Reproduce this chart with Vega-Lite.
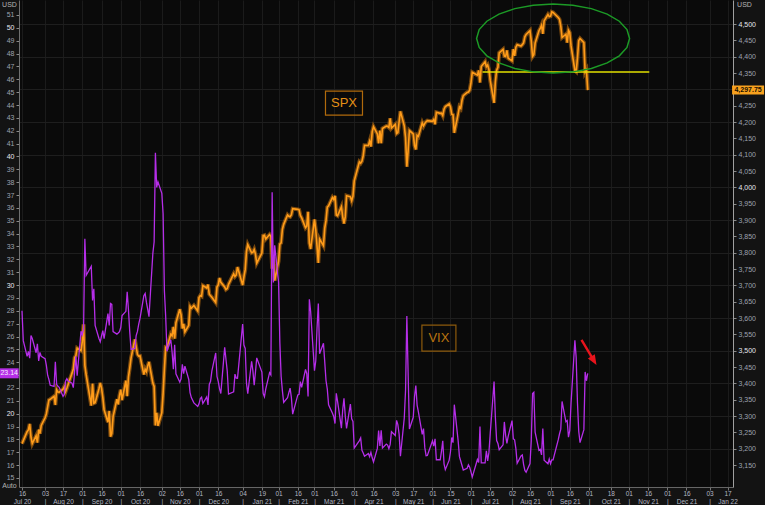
{
  "$schema": "https://vega.github.io/schema/vega-lite/v6.json",
  "width": 714,
  "height": 487,
  "autosize": {"type": "none"},
  "padding": {"left": 19, "top": 0, "right": 32, "bottom": 18},
  "background": "#131313",
  "config": {
    "view": {"fill": "#0a0a0a", "stroke": null},
    "axis": {"labelFont": "Liberation Sans", "titleFont": "Liberation Sans"}
  },
  "datasets": {
    "mkt": [
      {"date":"2020-07-16","spx":3215.6,"vix":28.00},{"date":"2020-07-17","spx":3224.7,"vix":25.68},{"date":"2020-07-20","spx":3251.8,"vix":24.46},{"date":"2020-07-21","spx":3257.3,"vix":24.84},{"date":"2020-07-22","spx":3276.0,"vix":24.32},{"date":"2020-07-23","spx":3235.7,"vix":26.08},{"date":"2020-07-24","spx":3215.6,"vix":25.84},{"date":"2020-07-27","spx":3239.4,"vix":24.74},{"date":"2020-07-28","spx":3218.4,"vix":25.44},{"date":"2020-07-29","spx":3258.4,"vix":24.10},{"date":"2020-07-30","spx":3246.2,"vix":24.76},{"date":"2020-07-31","spx":3271.1,"vix":24.46},
      {"date":"2020-08-03","spx":3294.6,"vix":24.28},{"date":"2020-08-04","spx":3306.5,"vix":23.76},{"date":"2020-08-05","spx":3327.8,"vix":22.99},{"date":"2020-08-06","spx":3349.2,"vix":22.65},{"date":"2020-08-07","spx":3351.3,"vix":22.21},{"date":"2020-08-10","spx":3360.5,"vix":22.13},{"date":"2020-08-11","spx":3333.7,"vix":24.03},{"date":"2020-08-12","spx":3380.4,"vix":22.28},{"date":"2020-08-13","spx":3373.4,"vix":22.13},{"date":"2020-08-14","spx":3372.9,"vix":22.05},{"date":"2020-08-17","spx":3382.0,"vix":21.35},{"date":"2020-08-18","spx":3389.8,"vix":21.51},{"date":"2020-08-19","spx":3374.9,"vix":22.54},{"date":"2020-08-20","spx":3385.5,"vix":22.72},{"date":"2020-08-21","spx":3397.2,"vix":22.54},{"date":"2020-08-24","spx":3431.3,"vix":22.37},{"date":"2020-08-25","spx":3443.6,"vix":22.03},{"date":"2020-08-26","spx":3478.7,"vix":23.27},{"date":"2020-08-27","spx":3484.6,"vix":24.47},{"date":"2020-08-28","spx":3508.0,"vix":22.96},{"date":"2020-08-31","spx":3500.3,"vix":26.41},
      {"date":"2020-09-01","spx":3526.7,"vix":26.12},{"date":"2020-09-02","spx":3580.8,"vix":26.57},{"date":"2020-09-03","spx":3455.1,"vix":33.60},{"date":"2020-09-04","spx":3427.0,"vix":30.75},{"date":"2020-09-08","spx":3331.8,"vix":31.46},{"date":"2020-09-09","spx":3399.0,"vix":28.81},{"date":"2020-09-10","spx":3339.2,"vix":29.71},{"date":"2020-09-11","spx":3341.0,"vix":26.87},{"date":"2020-09-14","spx":3383.5,"vix":25.85},{"date":"2020-09-15","spx":3401.2,"vix":25.59},{"date":"2020-09-16","spx":3385.5,"vix":26.04},{"date":"2020-09-17","spx":3357.0,"vix":26.46},{"date":"2020-09-18","spx":3319.5,"vix":25.83},{"date":"2020-09-21","spx":3281.1,"vix":27.78},{"date":"2020-09-22","spx":3315.6,"vix":26.86},{"date":"2020-09-23","spx":3236.9,"vix":28.58},{"date":"2020-09-24","spx":3246.6,"vix":28.51},{"date":"2020-09-25","spx":3298.5,"vix":26.38},{"date":"2020-09-28","spx":3351.6,"vix":26.19},{"date":"2020-09-29","spx":3335.5,"vix":26.27},{"date":"2020-09-30","spx":3363.0,"vix":26.37},
      {"date":"2020-10-01","spx":3380.8,"vix":26.70},{"date":"2020-10-02","spx":3348.4,"vix":27.63},{"date":"2020-10-05","spx":3408.6,"vix":27.96},{"date":"2020-10-06","spx":3361.0,"vix":29.48},{"date":"2020-10-07","spx":3419.4,"vix":28.06},{"date":"2020-10-08","spx":3446.8,"vix":26.36},{"date":"2020-10-09","spx":3477.1,"vix":25.00},{"date":"2020-10-12","spx":3534.2,"vix":25.07},{"date":"2020-10-13","spx":3511.9,"vix":26.07},{"date":"2020-10-14","spx":3488.7,"vix":26.40},{"date":"2020-10-15","spx":3483.3,"vix":26.97},{"date":"2020-10-16","spx":3483.8,"vix":27.41},{"date":"2020-10-19","spx":3426.9,"vix":29.18},{"date":"2020-10-20","spx":3443.1,"vix":29.35},{"date":"2020-10-21","spx":3435.6,"vix":28.65},{"date":"2020-10-22","spx":3453.5,"vix":28.11},{"date":"2020-10-23","spx":3465.4,"vix":27.55},{"date":"2020-10-26","spx":3401.0,"vix":32.46},{"date":"2020-10-27","spx":3390.7,"vix":33.35},{"date":"2020-10-28","spx":3271.0,"vix":40.28},{"date":"2020-10-29","spx":3310.1,"vix":37.59},{"date":"2020-10-30","spx":3270.0,"vix":38.02},
      {"date":"2020-11-02","spx":3310.2,"vix":37.13},{"date":"2020-11-03","spx":3369.2,"vix":35.55},{"date":"2020-11-04","spx":3443.4,"vix":29.57},{"date":"2020-11-05","spx":3510.5,"vix":27.58},{"date":"2020-11-06","spx":3509.4,"vix":24.86},{"date":"2020-11-09","spx":3550.5,"vix":25.75},{"date":"2020-11-10","spx":3545.5,"vix":24.80},{"date":"2020-11-11","spx":3572.7,"vix":23.45},{"date":"2020-11-12","spx":3537.0,"vix":25.35},{"date":"2020-11-13","spx":3585.2,"vix":23.10},{"date":"2020-11-16","spx":3626.9,"vix":22.45},{"date":"2020-11-17","spx":3609.5,"vix":22.71},{"date":"2020-11-18","spx":3567.8,"vix":23.84},{"date":"2020-11-19","spx":3581.9,"vix":23.11},{"date":"2020-11-20","spx":3557.5,"vix":23.70},{"date":"2020-11-23","spx":3577.6,"vix":22.66},{"date":"2020-11-24","spx":3635.4,"vix":21.64},{"date":"2020-11-25","spx":3629.7,"vix":21.25},{"date":"2020-11-27","spx":3638.4,"vix":20.84},{"date":"2020-11-30","spx":3621.6,"vix":20.57},
      {"date":"2020-12-01","spx":3662.5,"vix":20.77},{"date":"2020-12-02","spx":3669.0,"vix":21.17},{"date":"2020-12-03","spx":3666.7,"vix":21.28},{"date":"2020-12-04","spx":3699.1,"vix":20.79},{"date":"2020-12-07","spx":3692.0,"vix":21.30},{"date":"2020-12-08","spx":3702.3,"vix":20.68},{"date":"2020-12-09","spx":3672.8,"vix":22.27},{"date":"2020-12-10","spx":3668.1,"vix":22.52},{"date":"2020-12-11","spx":3663.5,"vix":23.31},{"date":"2020-12-14","spx":3647.5,"vix":24.72},{"date":"2020-12-15","spx":3694.6,"vix":22.89},{"date":"2020-12-16","spx":3701.2,"vix":22.50},{"date":"2020-12-17","spx":3722.5,"vix":21.93},{"date":"2020-12-18","spx":3709.4,"vix":21.57},{"date":"2020-12-21","spx":3694.9,"vix":25.16},{"date":"2020-12-22","spx":3687.3,"vix":24.23},{"date":"2020-12-23","spx":3690.0,"vix":23.31},{"date":"2020-12-24","spx":3703.1,"vix":21.53},{"date":"2020-12-28","spx":3735.4,"vix":21.70},{"date":"2020-12-29","spx":3727.0,"vix":23.08},{"date":"2020-12-30","spx":3732.0,"vix":22.77},{"date":"2020-12-31","spx":3756.1,"vix":22.75},
      {"date":"2021-01-04","spx":3700.7,"vix":26.97},{"date":"2021-01-05","spx":3726.9,"vix":25.34},{"date":"2021-01-06","spx":3748.1,"vix":25.07},{"date":"2021-01-07","spx":3803.8,"vix":22.37},{"date":"2021-01-08","spx":3824.7,"vix":21.56},{"date":"2021-01-11","spx":3799.6,"vix":24.08},{"date":"2021-01-12","spx":3801.2,"vix":23.33},{"date":"2021-01-13","spx":3809.8,"vix":22.21},{"date":"2021-01-14","spx":3795.5,"vix":23.25},{"date":"2021-01-15","spx":3768.3,"vix":24.34},{"date":"2021-01-19","spx":3798.9,"vix":23.24},{"date":"2021-01-20","spx":3851.9,"vix":21.58},{"date":"2021-01-21","spx":3853.1,"vix":21.32},{"date":"2021-01-22","spx":3841.5,"vix":21.91},{"date":"2021-01-25","spx":3855.4,"vix":23.19},{"date":"2021-01-26","spx":3849.6,"vix":23.02},{"date":"2021-01-27","spx":3750.8,"vix":37.21},{"date":"2021-01-28","spx":3787.4,"vix":30.21},{"date":"2021-01-29","spx":3714.2,"vix":33.09},
      {"date":"2021-02-01","spx":3773.9,"vix":30.24},{"date":"2021-02-02","spx":3826.3,"vix":25.56},{"date":"2021-02-03","spx":3830.2,"vix":22.91},{"date":"2021-02-04","spx":3871.7,"vix":21.77},{"date":"2021-02-05","spx":3886.8,"vix":20.87},{"date":"2021-02-08","spx":3915.6,"vix":21.24},{"date":"2021-02-09","spx":3911.2,"vix":21.63},{"date":"2021-02-10","spx":3909.9,"vix":21.99},{"date":"2021-02-11","spx":3916.4,"vix":21.25},{"date":"2021-02-12","spx":3934.8,"vix":19.97},{"date":"2021-02-16","spx":3932.6,"vix":21.46},{"date":"2021-02-17","spx":3931.3,"vix":21.50},{"date":"2021-02-18","spx":3914.0,"vix":22.49},{"date":"2021-02-19","spx":3906.7,"vix":22.05},{"date":"2021-02-22","spx":3876.5,"vix":23.45},{"date":"2021-02-23","spx":3881.4,"vix":23.11},{"date":"2021-02-24","spx":3925.4,"vix":21.34},{"date":"2021-02-25","spx":3829.3,"vix":28.89},{"date":"2021-02-26","spx":3811.2,"vix":27.95},
      {"date":"2021-03-01","spx":3901.8,"vix":23.35},{"date":"2021-03-02","spx":3870.3,"vix":24.10},{"date":"2021-03-03","spx":3819.7,"vix":26.67},{"date":"2021-03-04","spx":3768.5,"vix":28.57},{"date":"2021-03-05","spx":3841.9,"vix":24.66},{"date":"2021-03-08","spx":3821.4,"vix":25.47},{"date":"2021-03-09","spx":3875.4,"vix":24.03},{"date":"2021-03-10","spx":3898.8,"vix":22.56},{"date":"2021-03-11","spx":3939.3,"vix":21.91},{"date":"2021-03-12","spx":3943.3,"vix":20.69},{"date":"2021-03-15","spx":3968.9,"vix":20.03},{"date":"2021-03-16","spx":3962.7,"vix":19.79},{"date":"2021-03-17","spx":3974.1,"vix":19.23},{"date":"2021-03-18","spx":3915.5,"vix":21.58},{"date":"2021-03-19","spx":3913.1,"vix":20.95},{"date":"2021-03-22","spx":3940.6,"vix":18.88},{"date":"2021-03-23","spx":3910.5,"vix":20.30},{"date":"2021-03-24","spx":3889.1,"vix":21.20},{"date":"2021-03-25","spx":3909.5,"vix":19.81},{"date":"2021-03-26","spx":3974.5,"vix":18.86},{"date":"2021-03-29","spx":3971.1,"vix":20.74},{"date":"2021-03-30","spx":3958.6,"vix":19.61},{"date":"2021-03-31","spx":3972.9,"vix":19.40},
      {"date":"2021-04-01","spx":4019.9,"vix":17.33},{"date":"2021-04-05","spx":4077.9,"vix":17.91},{"date":"2021-04-06","spx":4073.9,"vix":18.12},{"date":"2021-04-07","spx":4080.0,"vix":17.16},{"date":"2021-04-08","spx":4097.2,"vix":16.95},{"date":"2021-04-09","spx":4128.8,"vix":16.69},{"date":"2021-04-12","spx":4128.0,"vix":16.91},{"date":"2021-04-13","spx":4141.6,"vix":16.65},{"date":"2021-04-14","spx":4124.7,"vix":16.99},{"date":"2021-04-15","spx":4170.4,"vix":16.57},{"date":"2021-04-16","spx":4185.5,"vix":16.25},{"date":"2021-04-19","spx":4163.3,"vix":17.30},{"date":"2021-04-20","spx":4134.9,"vix":18.68},{"date":"2021-04-21","spx":4173.4,"vix":17.50},{"date":"2021-04-22","spx":4135.0,"vix":18.71},{"date":"2021-04-23","spx":4180.2,"vix":17.33},{"date":"2021-04-26","spx":4187.6,"vix":17.64},{"date":"2021-04-27","spx":4186.7,"vix":17.56},{"date":"2021-04-28","spx":4183.2,"vix":17.28},{"date":"2021-04-29","spx":4211.5,"vix":17.61},{"date":"2021-04-30","spx":4181.2,"vix":18.61},
      {"date":"2021-05-03","spx":4192.7,"vix":18.31},{"date":"2021-05-04","spx":4164.7,"vix":19.48},{"date":"2021-05-05","spx":4167.6,"vix":19.15},{"date":"2021-05-06","spx":4201.6,"vix":18.39},{"date":"2021-05-07","spx":4232.6,"vix":16.69},{"date":"2021-05-10","spx":4188.4,"vix":19.66},{"date":"2021-05-11","spx":4152.1,"vix":21.84},{"date":"2021-05-12","spx":4063.0,"vix":27.59},{"date":"2021-05-13","spx":4112.5,"vix":23.13},{"date":"2021-05-14","spx":4173.9,"vix":18.81},{"date":"2021-05-17","spx":4163.3,"vix":19.72},{"date":"2021-05-18","spx":4127.8,"vix":21.34},{"date":"2021-05-19","spx":4115.7,"vix":22.18},{"date":"2021-05-20","spx":4159.1,"vix":20.67},{"date":"2021-05-21","spx":4155.9,"vix":20.15},{"date":"2021-05-24","spx":4197.1,"vix":18.40},{"date":"2021-05-25","spx":4188.1,"vix":18.84},{"date":"2021-05-26","spx":4196.0,"vix":17.36},{"date":"2021-05-27","spx":4200.9,"vix":16.74},{"date":"2021-05-28","spx":4204.1,"vix":16.76},
      {"date":"2021-06-01","spx":4202.0,"vix":17.90},{"date":"2021-06-02","spx":4208.1,"vix":17.48},{"date":"2021-06-03","spx":4192.9,"vix":18.04},{"date":"2021-06-04","spx":4229.9,"vix":16.42},{"date":"2021-06-07","spx":4226.5,"vix":16.42},{"date":"2021-06-08","spx":4227.3,"vix":17.07},{"date":"2021-06-09","spx":4219.6,"vix":17.89},{"date":"2021-06-10","spx":4239.2,"vix":16.10},{"date":"2021-06-11","spx":4247.4,"vix":15.65},{"date":"2021-06-14","spx":4255.2,"vix":16.39},{"date":"2021-06-15","spx":4246.6,"vix":17.02},{"date":"2021-06-16","spx":4223.7,"vix":18.15},{"date":"2021-06-17","spx":4221.9,"vix":17.75},{"date":"2021-06-18","spx":4166.5,"vix":20.70},{"date":"2021-06-21","spx":4224.8,"vix":17.89},{"date":"2021-06-22","spx":4246.4,"vix":16.66},{"date":"2021-06-23","spx":4241.8,"vix":16.32},{"date":"2021-06-24","spx":4266.5,"vix":15.97},{"date":"2021-06-25","spx":4280.7,"vix":15.62},{"date":"2021-06-28","spx":4290.6,"vix":15.76},{"date":"2021-06-29","spx":4291.8,"vix":16.02},{"date":"2021-06-30","spx":4297.5,"vix":15.83},
      {"date":"2021-07-01","spx":4319.9,"vix":15.48},{"date":"2021-07-02","spx":4352.3,"vix":15.07},{"date":"2021-07-06","spx":4343.5,"vix":16.44},{"date":"2021-07-07","spx":4358.1,"vix":16.20},{"date":"2021-07-08","spx":4320.8,"vix":19.00},{"date":"2021-07-09","spx":4369.6,"vix":16.18},{"date":"2021-07-12","spx":4384.6,"vix":16.17},{"date":"2021-07-13","spx":4369.2,"vix":17.12},{"date":"2021-07-14","spx":4374.3,"vix":16.33},{"date":"2021-07-15","spx":4360.0,"vix":17.01},{"date":"2021-07-16","spx":4327.2,"vix":18.45},{"date":"2021-07-19","spx":4258.5,"vix":22.50},{"date":"2021-07-20","spx":4323.1,"vix":19.73},{"date":"2021-07-21","spx":4358.7,"vix":17.91},{"date":"2021-07-22","spx":4367.5,"vix":17.69},{"date":"2021-07-23","spx":4411.8,"vix":17.20},{"date":"2021-07-26","spx":4422.3,"vix":17.58},{"date":"2021-07-27","spx":4401.5,"vix":19.36},{"date":"2021-07-28","spx":4400.6,"vix":18.31},{"date":"2021-07-29","spx":4419.2,"vix":17.70},{"date":"2021-07-30","spx":4395.3,"vix":18.24},
      {"date":"2021-08-02","spx":4387.2,"vix":19.46},{"date":"2021-08-03","spx":4423.2,"vix":18.04},{"date":"2021-08-04","spx":4402.7,"vix":17.97},{"date":"2021-08-05","spx":4429.1,"vix":17.28},{"date":"2021-08-06","spx":4436.5,"vix":16.15},{"date":"2021-08-09","spx":4432.4,"vix":16.72},{"date":"2021-08-10","spx":4436.8,"vix":16.79},{"date":"2021-08-11","spx":4442.4,"vix":16.06},{"date":"2021-08-12","spx":4460.8,"vix":15.59},{"date":"2021-08-13","spx":4468.0,"vix":15.45},{"date":"2021-08-16","spx":4479.7,"vix":16.12},{"date":"2021-08-17","spx":4448.1,"vix":17.91},{"date":"2021-08-18","spx":4400.3,"vix":21.57},{"date":"2021-08-19","spx":4405.8,"vix":21.67},{"date":"2021-08-20","spx":4441.7,"vix":18.56},{"date":"2021-08-23","spx":4479.5,"vix":17.15},{"date":"2021-08-24","spx":4486.2,"vix":17.22},{"date":"2021-08-25","spx":4496.2,"vix":16.79},{"date":"2021-08-26","spx":4470.0,"vix":18.84},{"date":"2021-08-27","spx":4509.4,"vix":16.39},{"date":"2021-08-30","spx":4528.8,"vix":16.11},{"date":"2021-08-31","spx":4522.7,"vix":16.48},
      {"date":"2021-09-01","spx":4524.1,"vix":16.11},{"date":"2021-09-02","spx":4537.0,"vix":16.41},{"date":"2021-09-03","spx":4535.4,"vix":16.41},{"date":"2021-09-07","spx":4520.0,"vix":17.96},{"date":"2021-09-08","spx":4514.1,"vix":18.42},{"date":"2021-09-09","spx":4493.3,"vix":18.80},{"date":"2021-09-10","spx":4458.6,"vix":20.95},{"date":"2021-09-13","spx":4468.7,"vix":19.37},{"date":"2021-09-14","spx":4443.1,"vix":19.46},{"date":"2021-09-15","spx":4480.7,"vix":18.18},{"date":"2021-09-16","spx":4473.8,"vix":18.69},{"date":"2021-09-17","spx":4433.0,"vix":20.81},{"date":"2021-09-20","spx":4357.7,"vix":25.71},{"date":"2021-09-21","spx":4354.2,"vix":24.36},{"date":"2021-09-22","spx":4395.6,"vix":20.87},{"date":"2021-09-23","spx":4449.0,"vix":18.63},{"date":"2021-09-24","spx":4455.5,"vix":17.75},{"date":"2021-09-27","spx":4443.1,"vix":18.76},{"date":"2021-09-28","spx":4352.6,"vix":23.25},{"date":"2021-09-29","spx":4359.5,"vix":22.56},{"date":"2021-09-30","spx":4297.75,"vix":23.14}
    ]
  },
  "layer": [
    {
      "layer": [
        {
          "data": {"name": "mkt"},
          "mark": {"type": "line", "color": "#d17a10", "strokeWidth": 4, "opacity": 0.55},
          "encoding": {
            "x": {
              "field": "date", "type": "temporal",
              "scale": {"type": "utc", "domain": [{"year": 2020, "month": 7, "date": 13, "hours": 16, "utc": true}, {"year": 2022, "month": 1, "date": 21, "hours": 6, "utc": true}]},
              "axis": {
                "values": [
                  {"year":2020,"month":7,"date":16,"utc":true},{"year":2020,"month":8,"date":3,"utc":true},{"year":2020,"month":8,"date":17,"utc":true},{"year":2020,"month":9,"date":1,"utc":true},{"year":2020,"month":9,"date":16,"utc":true},{"year":2020,"month":10,"date":1,"utc":true},{"year":2020,"month":10,"date":16,"utc":true},{"year":2020,"month":11,"date":2,"utc":true},{"year":2020,"month":11,"date":16,"utc":true},{"year":2020,"month":12,"date":1,"utc":true},{"year":2020,"month":12,"date":16,"utc":true},
                  {"year":2021,"month":1,"date":4,"utc":true},{"year":2021,"month":1,"date":19,"utc":true},{"year":2021,"month":2,"date":1,"utc":true},{"year":2021,"month":2,"date":16,"utc":true},{"year":2021,"month":3,"date":1,"utc":true},{"year":2021,"month":3,"date":16,"utc":true},{"year":2021,"month":4,"date":1,"utc":true},{"year":2021,"month":4,"date":16,"utc":true},{"year":2021,"month":5,"date":3,"utc":true},{"year":2021,"month":5,"date":17,"utc":true},{"year":2021,"month":6,"date":1,"utc":true},{"year":2021,"month":6,"date":15,"utc":true},{"year":2021,"month":7,"date":1,"utc":true},{"year":2021,"month":7,"date":16,"utc":true},{"year":2021,"month":8,"date":2,"utc":true},{"year":2021,"month":8,"date":16,"utc":true},{"year":2021,"month":9,"date":1,"utc":true},{"year":2021,"month":9,"date":16,"utc":true},{"year":2021,"month":10,"date":1,"utc":true},{"year":2021,"month":10,"date":18,"utc":true},{"year":2021,"month":11,"date":1,"utc":true},{"year":2021,"month":11,"date":16,"utc":true},{"year":2021,"month":12,"date":1,"utc":true},{"year":2021,"month":12,"date":16,"utc":true},
                  {"year":2022,"month":1,"date":3,"utc":true},{"year":2022,"month":1,"date":17,"utc":true}
                ],
                "tickCount": 500,
                "labelExpr": "[utcFormat(datum.value, '%d'), utcdate(datum.value) <= 5 ? '|' : utcFormat(datum.value, '%b %y')]",
                "labelFontSize": 6.5,
                "labelColor": "#b4b8c4",
                "labelLineHeight": 8,
                "labelBaseline": "top",
                "labelPadding": 0,
                "labelOverlap": false,
                "labelFlush": false,
                "tickSize": 3,
                "tickColor": "#777777",
                "domainColor": "#666666",
                "grid": true,
                "gridColor": "#1b1b1b",
                "title": "Auto",
                "titleFontSize": 7,
                "titleFontWeight": "normal",
                "titleColor": "#b4b4b4",
                "titleX": -10,
                "titleY": -2,
                "titleAlign": "center",
                "titleBaseline": "middle"
              }
            },
            "y": {
              "field": "spx", "type": "quantitative",
              "scale": {"domain": [3082.7, 4573.5], "zero": false, "nice": false},
              "axis": {
                "orient": "right",
                "values": [3150,3200,3250,3300,3350,3400,3450,3500,3550,3600,3650,3700,3750,3800,3850,3900,3950,4000,4050,4100,4150,4200,4250,4300,4350,4400,4450,4500],
                "tickCount": 500,
                "labelExpr": "datum.value == 4300 ? '' : format(datum.value, ',')",
                "labelFontSize": 7,
                "labelColor": {"condition": {"test": "datum.value % 500 == 0", "value": "#e6e6ee"}, "value": "#9ea2ae"},
                "tickColor": "#8a8a8a",
                "tickSize": 3,
                "labelPadding": 2,
                "labelOverlap": false,
                "labelFlush": false,
                "domainColor": "#a0a0a0",
                "grid": true,
                "gridColor": "#1e1e1e",
                "gridOpacity": {"condition": {"test": "datum.value % 100 == 0", "value": 1}, "value": 0},
                "title": "USD",
                "titleAngle": 0,
                "titleFontSize": 7,
                "titleFontWeight": "normal",
                "titleColor": "#b4b4b4",
                "titleX": 11,
                "titleY": 4,
                "titleAlign": "center",
                "titleBaseline": "middle"
              }
            }
          }
        },
        {
          "data": {"name": "mkt"},
          "mark": {"type": "line", "color": "#ff9c1a", "strokeWidth": 1.6},
          "encoding": {
            "x": {"field": "date", "type": "temporal"},
            "y": {"field": "spx", "type": "quantitative"}
          }
        },
        {
          "data": {"values": [{"start": "2021-07-10", "end": "2021-11-17", "level": 4353}]},
          "mark": {"type": "rule", "color": "#e2e000", "strokeWidth": 1.5},
          "encoding": {
            "x": {"field": "start", "type": "temporal"},
            "x2": {"field": "end"},
            "y": {"field": "level", "type": "quantitative"}
          }
        },
        {
          "data": {"values": [{"date": "2021-09-03", "level": 4455.6}]},
          "mark": {"type": "point", "shape": "M1,0L0.966,0.117L0.866,0.226L0.707,0.319L0.5,0.391L0.259,0.436L0,0.451L-0.259,0.436L-0.5,0.391L-0.707,0.319L-0.866,0.226L-0.966,0.117L-1,0L-0.966,-0.117L-0.866,-0.226L-0.707,-0.319L-0.5,-0.391L-0.259,-0.436L0,-0.451L0.259,-0.436L0.5,-0.391L0.707,-0.319L0.866,-0.226L0.966,-0.117Z", "size": 23409, "filled": false, "stroke": "#1c9a26", "strokeWidth": 1.5, "opacity": 1},
          "encoding": {
            "x": {"field": "date", "type": "temporal"},
            "y": {"field": "level", "type": "quantitative"}
          }
        },
        {
          "data": {"values": [{"date": "2021-03-24", "level": 4258, "label": "SPX"}]},
          "layer": [
            {
              "mark": {"type": "point", "shape": "M-1,-0.65L1,-0.65L1,0.65L-1,0.65Z", "size": 1369, "filled": false, "stroke": "#b06a0c", "strokeWidth": 1.2, "opacity": 1},
              "encoding": {
                "x": {"field": "date", "type": "temporal"},
                "y": {"field": "level", "type": "quantitative"}
              }
            },
            {
              "mark": {"type": "text", "font": "Liberation Sans", "fontSize": 13, "color": "#e69116", "baseline": "middle", "align": "center"},
              "encoding": {
                "x": {"field": "date", "type": "temporal"},
                "y": {"field": "level", "type": "quantitative"},
                "text": {"field": "label"}
              }
            }
          ]
        },
        {
          "data": {"values": [{"date": "2022-02-02", "level": 4297.75, "label": "4,297.75"}]},
          "layer": [
            {
              "mark": {"type": "point", "shape": "M-1,-0.28L1,-0.28L1,0.28L-1,0.28Z", "size": 1024, "filled": true, "fill": "#f7a11e", "strokeWidth": 0, "opacity": 1},
              "encoding": {
                "x": {"field": "date", "type": "temporal"},
                "y": {"field": "level", "type": "quantitative"}
              }
            },
            {
              "mark": {"type": "text", "font": "Liberation Sans", "fontSize": 7, "fontWeight": "bold", "color": "#1a1000", "baseline": "middle", "align": "center"},
              "encoding": {
                "x": {"field": "date", "type": "temporal"},
                "y": {"field": "level", "type": "quantitative"},
                "text": {"field": "label"}
              }
            }
          ]
        }
      ]
    },
    {
      "layer": [
        {
          "data": {"name": "mkt"},
          "mark": {"type": "line", "color": "#b52ee8", "strokeWidth": 1.3},
          "encoding": {
            "x": {"field": "date", "type": "temporal"},
            "y": {
              "field": "vix", "type": "quantitative",
              "scale": {"domain": [14.3, 52.166], "zero": false, "nice": false},
              "axis": {
                "orient": "left",
                "values": [15,16,17,18,19,20,21,22,23,24,25,26,27,28,29,30,31,32,33,34,35,36,37,38,39,40,41,42,43,44,45,46,47,48,49,50,51],
                "tickCount": 500,
                "labelExpr": "datum.value == 23 ? '' : format(datum.value, 'd')",
                "labelFontSize": 7,
                "labelColor": {"condition": {"test": "datum.value % 10 == 0", "value": "#e6e6ee"}, "value": "#9ea2ae"},
                "tickColor": "#8a8a8a",
                "tickSize": 3,
                "labelPadding": 2,
                "labelOverlap": false,
                "labelFlush": false,
                "domainColor": "#707070",
                "grid": false,
                "title": "USD",
                "titleAngle": 0,
                "titleFontSize": 7,
                "titleFontWeight": "normal",
                "titleColor": "#b4b4b4",
                "titleX": -10,
                "titleY": 4,
                "titleAlign": "center",
                "titleBaseline": "middle"
              }
            }
          }
        },
        {
          "data": {"values": [{"date": "2021-06-06", "level": 25.88, "label": "VIX"}]},
          "layer": [
            {
              "mark": {"type": "point", "shape": "M-1,-0.765L1,-0.765L1,0.765L-1,0.765Z", "size": 1156, "filled": false, "stroke": "#8c5a0c", "strokeWidth": 1.2, "opacity": 1},
              "encoding": {
                "x": {"field": "date", "type": "temporal"},
                "y": {"field": "level", "type": "quantitative"}
              }
            },
            {
              "mark": {"type": "text", "font": "Liberation Sans", "fontSize": 13, "color": "#bb7410", "baseline": "middle", "align": "center"},
              "encoding": {
                "x": {"field": "date", "type": "temporal"},
                "y": {"field": "level", "type": "quantitative"},
                "text": {"field": "label"}
              }
            }
          ]
        },
        {
          "data": {"values": [{"date": "2020-07-06", "level": 23.14, "label": "23.14"}]},
          "layer": [
            {
              "mark": {"type": "point", "shape": "M-1,-0.526L1,-0.526L1,0.526L-1,0.526Z", "size": 361, "filled": true, "fill": "#b52ee8", "strokeWidth": 0, "opacity": 1},
              "encoding": {
                "x": {"field": "date", "type": "temporal"},
                "y": {"field": "level", "type": "quantitative"}
              }
            },
            {
              "mark": {"type": "text", "font": "Liberation Sans", "fontSize": 7, "color": "#f6ecff", "baseline": "middle", "align": "center"},
              "encoding": {
                "x": {"field": "date", "type": "temporal"},
                "y": {"field": "level", "type": "quantitative"},
                "text": {"field": "label"}
              }
            }
          ]
        },
        {
          "data": {"values": [{"date": "2021-10-01", "level": 24.76}]},
          "mark": {"type": "point", "shape": "M-0.518,-1.05L0.271,0.265L0.463,0.15L0.6,1L-0.086,0.479L0.106,0.364L-0.682,-0.95Z", "size": 625, "filled": true, "fill": "#e8141c", "strokeWidth": 0, "opacity": 1},
          "encoding": {
            "x": {"field": "date", "type": "temporal"},
            "y": {"field": "level", "type": "quantitative"}
          }
        }
      ]
    }
  ],
  "resolve": {"scale": {"y": "independent"}, "axis": {"y": "independent"}}
}
